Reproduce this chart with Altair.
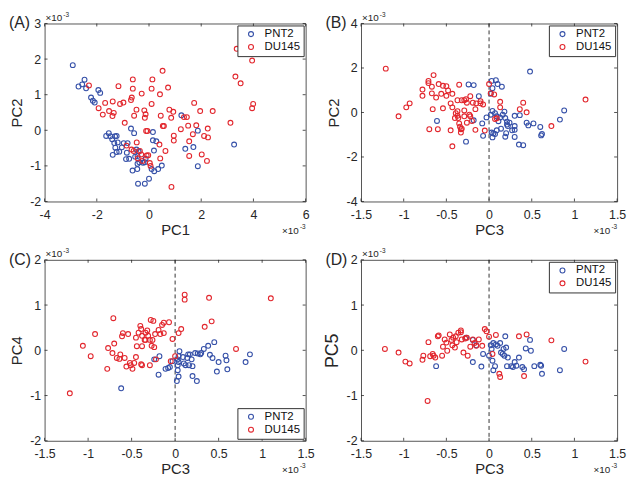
import altair as alt
import pandas as pd

FONT = "Liberation Sans"
BLUE = "#3550a8"
RED = "#e2262d"
AXC = "#262626"

# ---------------- Panel A: PC1 vs PC2 (x10^-3) ----------------
a_pnt2_x = [-2.92, -2.47, -2.70, -2.56, -2.41, -1.94, -1.87, -2.22, -2.15, -2.08, 1.24, 1.87, 3.26, 1.39, 1.70, 1.87,
            -1.64, -1.54, -1.48, -1.41, -1.30, -1.24, -1.33, -1.20, -1.29, -1.24, -1.14, -1.39, -1.04, -0.97, -0.82,
            -0.85, -0.88, -0.76, -0.69, -0.57, -0.48, -0.40, -0.44, -0.53, -0.63, -0.45, -0.42, -0.16, 0.00, -0.44,
            -0.16, -0.13, 0.15, 0.15, 0.28, 0.19, 0.10, 0.20, 0.35, 0.49, -0.37, -0.23]
a_pnt2_y = [1.83, 1.42, 1.23, 1.29, 1.18, 1.13, 1.05, 0.92, 0.83, 0.78, 0.42, -0.01, -0.40, -0.52, -0.47, -1.01,
            -0.16, -0.08, -0.17, -0.25, -0.17, -0.16, -0.36, -0.34, -0.49, -0.61, -0.60, -0.69, -0.48, -0.36, -0.36,
            -0.63, -0.81, -0.80, 0.05, -0.08, -0.54, -0.59, -0.72, -0.74, -1.13, -1.09, -1.50, -1.50, -1.36, -0.94,
            -0.90, -0.80, -0.05, -0.28, -0.31, -0.57, -1.09, -1.15, -1.09, -0.99, -0.90, -0.91]
a_du145_x = [-2.30, -1.93, -1.77, -1.68, -1.53, -1.39, -1.35, -1.40, -1.17, -1.11, -0.98, -0.93, -0.69, -0.66, -0.62,
             -0.62, -0.57, -0.48, -0.28, -0.18, -0.13, -0.16, -0.11, -0.06, 0.13, 0.10, 0.10, 0.42, 0.52, 0.45, 0.53,
             0.57, 0.73, 0.78, 0.85, 0.93, 0.95, 0.95, 1.22, 1.34, 1.45, 1.50, 1.54, 1.54, 1.68, 1.73, 1.81, 1.96,
             2.02, 2.11, 2.25, 2.26, 2.22, 2.44, 3.12, 3.31, 3.51, 3.36, 3.95, 3.95, 3.99, 0.86, 0.63, 0.40, 0.43,
             -0.86, -0.67, -0.59, -0.35, -0.30, -0.43, -0.03, -0.09, 0.03, 0.06, -0.25, -0.47]
a_du145_y = [1.26, 0.62, 0.44, 0.77, 0.54, 0.81, 0.49, 0.40, 1.24, 0.74, 0.78, 0.21, 0.85, 0.92, 1.43,
             1.17, 0.41, 0.58, 1.03, 0.56, 0.45, 0.35, -0.02, -0.02, 1.43, 1.17, 0.74, 1.01, 1.67, 0.41, 0.12,
             0.12, 1.20, 0.58, 0.35, 0.52, -0.15, -0.29, 0.03, 0.37, 0.37, 0.13, -0.31, -0.72, -0.11, 0.77, 0.14, 0.54,
             -0.68, -0.16, 0.05, -0.20, -0.86, 0.54, 0.21, 1.51, 1.32, 2.29, 1.96, 0.62, 0.74, -1.59, -0.58, -0.40, -0.79,
             -0.43, -0.54, -0.58, -0.58, -0.68, -0.79, -0.70, -0.71, -0.92, -1.00, -0.86, -0.34]

# ---------------- Panel B: PC3 vs PC2 ----------------
b_pnt2_x = [0.48, 0.88, 0.83, 0.60, 0.62, 0.61, 0.52, 0.44, 0.46, 0.36, 0.30, 0.30, 0.30, 0.30, 0.35, 0.40, 0.27,
            0.24, 0.21, 0.20, 0.19, 0.15, 0.08, 0.10, 0.03, 0.04, 0.02, 0.02, 0.04, 0.07, 0.09, 0.11, 0.13, 0.16,
            0.18, 0.19, 0.21, 0.22, 0.14, 0.09, 0.07, 0.04, 0.05, 0.03, -0.08, -0.12, -0.18, -0.24, -0.18, -0.27,
            -0.61, -0.07, -0.03]
b_pnt2_y = [1.84, 0.09, -0.32, -0.65, -0.97, -1.03, -0.49, -0.46, -0.58, -0.12, -0.15, -0.61, -0.78, -1.10, -1.44,
            -1.47, -0.80, -0.46, -0.41, -0.93, -1.09, 1.16, 1.45, 1.28, 1.42, 1.09, 0.84, -0.10, 0.07, -0.03, -0.17,
            -0.39, -0.22, -0.10, 0.04, -0.25, -0.54, -0.61, -0.73, -0.80, -0.97, -1.12, -0.94, -0.90, -0.49, 0.73,
            1.23, 1.26, -0.35, -1.31, -0.38, -1.05, -0.22]
b_du145_x = [-1.21, -1.06, -0.97, -0.93, -0.78, -0.78, -0.71, -0.71, -0.67, -0.65, -0.67, -0.62, -0.59, -0.56, -0.54,
             -0.50, -0.50, -0.48, -0.45, -0.43, -0.43, -0.35, -0.37, -0.37, -0.32, -0.29, -0.27, -0.26, -0.22, -0.19,
             -0.16, -0.15, -0.10, -0.10, -0.07, -0.66, -0.70, -0.60, -0.54, -0.45, -0.43, -0.39, -0.37, -0.40, -0.36,
             -0.35, -0.34, -0.33, -0.33, -0.32, -0.29, -0.29, -0.26, -0.23, -0.22, -0.20, -0.16, 0.00, 0.02, 0.06,
             0.09, 0.07, 0.13, 0.13, 0.36, 0.40, 0.44, 0.73, 1.13, -0.05]
b_du145_y = [1.97, -0.17, 0.23, 0.41, 1.03, 0.75, 1.42, 1.32, 1.16, 1.68, 0.86, 0.67, 1.28, 0.84, 1.20,
             0.75, 1.18, 0.99, 0.41, 0.84, 0.23, 1.25, 0.55, 0.06, 0.55, 0.55, 0.60, 0.44, 0.73, 0.44,
             0.15, 0.41, 0.51, 0.41, 0.36, 0.15, -0.75, -0.75, 0.19, -0.80, -1.52, -0.03, -0.15, -0.25, -0.25,
             -0.49, -0.64, -0.75, -0.90, -0.73, 0.09, -0.17, -0.46, -0.10, -0.17, -0.38, -0.78, 1.28, 0.87, 0.81,
             -0.26, -0.29, 0.48, 0.23, 0.15, 0.44, 0.01, -0.61, 0.58, -0.81]

# ---------------- Panel C: PC3 vs PC4 ----------------
c_pnt2_x = [-0.62, -0.19, -0.18, -0.24, -0.11, -0.08, -0.06, 0.02, 0.04, 0.03, 0.03, 0.04, 0.03, 0.04, 0.05, 0.09,
            0.10, 0.12, 0.14, 0.15, 0.16, 0.17, 0.19, 0.20, 0.20, 0.23, 0.25, 0.26, 0.29, 0.30, 0.33, 0.38, 0.40,
            0.43, 0.45, 0.48, 0.50, 0.58, 0.59, 0.60, 0.81, 0.86, -0.03]
c_pnt2_y = [-0.84, -0.54, -0.13, -0.20, -0.41, -0.39, -0.37, -0.68, -0.58, -0.44, -0.33, -0.26, -0.20, -0.13, -0.02,
            -0.15, -0.29, -0.33, -0.17, -0.09, -0.33, -0.09, -0.20, -0.35, -0.57, -0.06, -0.68, -0.07, -0.09, -0.06,
            0.03, 0.10, -0.10, -0.17, 0.18, -0.47, -0.26, -0.12, -0.22, -0.42, -0.26, -0.09, -0.24]
c_du145_x = [-1.21, -1.06, -0.97, -0.92, -0.78, -0.77, -0.71, -0.70, -0.72, -0.67, -0.64, -0.63, -0.60, -0.61, -0.58,
             -0.56, -0.54, -0.51, -0.52, -0.49, -0.47, -0.45, -0.45, -0.44, -0.42, -0.40, -0.39, -0.38, -0.38,
             -0.39, -0.38, -0.35, -0.34, -0.34, -0.32, -0.31, -0.29, -0.28, -0.27, -0.26, -0.24, -0.25, -0.23,
             -0.29, -0.22, -0.19, -0.17, -0.15, -0.13, -0.13, -0.07, -0.03, 0.00, -0.05, 0.04, 0.07, 0.11, 0.11,
             0.39, 0.42, 0.34, 0.70, 1.10]
c_du145_y = [-0.95, 0.10, -0.13, 0.36, -0.41, 0.05, 0.71, 0.15, -0.06, -0.17, -0.19, -0.09, 0.38, 0.31, -0.17,
             -0.36, 0.36, -0.33, -0.28, -0.41, -0.28, -0.15, 0.28, 0.09, 0.39, 0.54, 0.47, 0.09, 0.32,
             -0.31, -0.33, 0.23, 0.39, 0.23, 0.44, 0.32, 0.23, 0.67, 0.10, 0.23, 0.07, 0.65, 0.36,
             -0.33, -0.20, 0.45, 0.36, 0.56, 0.61, 0.38, 0.62, 0.25, -0.13, -0.24, 0.38, 0.47, 1.23, 1.12,
             1.16, 0.64, 0.52, 0.03, 1.15]

# ---------------- Panel D: PC3 vs PC5 ----------------
d_pnt2_x = [-0.62, -0.19, -0.09, -0.27, -0.19, -0.15, -0.07, 0.00, 0.02, 0.03, 0.05, 0.04, 0.05, 0.07, 0.08, 0.10,
            0.13, 0.14, 0.16, 0.17, 0.18, 0.19, 0.20, 0.22, 0.21, 0.26, 0.28, 0.30, 0.32, 0.35, 0.39, 0.41, 0.43,
            0.48, 0.49, 0.53, 0.60, 0.61, 0.62, 0.83, 0.88]
d_pnt2_y = [-0.35, -0.26, -0.36, 0.28, 0.23, 0.11, -0.08, -0.12, 0.11, 0.03, 0.16, -0.23, -0.44, -0.35, 0.13, 0.10,
            0.16, -0.05, -0.08, 0.03, -0.12, 0.31, 0.06, -0.16, -0.35, -0.35, -0.37, -0.26, -0.34, -0.16, -0.37,
            -0.42, 0.04, 0.23, -0.01, -0.35, -0.32, -0.34, -0.52, -0.44, 0.03]
d_du145_x = [-1.22, -1.06, -0.98, -0.93, -0.78, -0.77, -0.72, -0.71, -0.69, -0.66, -0.65, -0.63, -0.60, -0.59, -0.55,
             -0.54, -0.52, -0.50, -0.49, -0.46, -0.44, -0.43, -0.42, -0.40, -0.38, -0.39, -0.36, -0.33, -0.33,
             -0.32, -0.30, -0.28, -0.26, -0.25, -0.22, -0.19, -0.17, -0.15, -0.12, -0.08, -0.05, -0.03, 0.00,
             0.04, 0.08, 0.12, 0.13, 0.35, 0.44, 0.41, 0.73, 1.13]
d_du145_y = [0.03, -0.05, -0.25, -0.29, -0.21, -0.12, -1.12, 0.18, -0.13, -0.08, -0.12, -0.16, 0.31, 0.33, -0.12,
             0.08, 0.24, 0.17, -0.01, 0.35, 0.23, 0.11, 0.28, 0.06, 0.18, 0.31, 0.39, 0.44, 0.40,
             0.24, -0.05, 0.26, 0.28, -0.12, 0.08, 0.24, 0.16, 0.10, 0.24, 0.10, 0.47, 0.42, 0.30,
             -0.08, 0.34, -0.52, -0.59, 0.31, 0.35, -0.57, 0.22, -0.25]

PC3_TICKS = [-1.5, -1, -0.5, 0, 0.5, 1, 1.5]


def panel(px, py, rx, ry, xdom, ydom, xticks, yticks, xtitle, ytitle, w, h, label,
          legend_orient, dashed, ytitle_size=15):
    xs = alt.Scale(domain=xdom, nice=False, zero=False)
    ys = alt.Scale(domain=ydom, nice=False, zero=False)
    xax = alt.Axis(values=xticks, title=xtitle, labelExpr="datum.value + ''",
                   ticks=False, domain=False, grid=False, labelFlush=False,
                   labelPadding=7, titlePadding=2, labelOverlap=False)
    yax = alt.Axis(values=yticks, title=ytitle, labelExpr="datum.value + ''",
                   ticks=False, domain=False, grid=False, labelFlush=False,
                   labelPadding=4, titlePadding=5, labelOverlap=False,
                   titleFontSize=ytitle_size)
    X = lambda: alt.X("x:Q", scale=xs, axis=xax)
    Y = lambda: alt.Y("y:Q", scale=ys, axis=yax)
    df = pd.DataFrame({
        "x": px + rx,
        "y": py + ry,
        "cell": ["PNT2"] * len(px) + ["DU145"] * len(rx),
    })
    pts = alt.Chart(df).mark_point(filled=False, size=24, strokeWidth=1.1, opacity=1).encode(
        x=X(), y=Y(),
        color=alt.Color("cell:N", scale=alt.Scale(domain=["PNT2", "DU145"], range=[BLUE, RED]),
                        legend=alt.Legend(title=None, orient=legend_orient, offset=2)),
    )
    layers = []
    if dashed:
        layers.append(alt.Chart(pd.DataFrame({"x": [0]})).mark_rule(
            strokeDash=[4, 3], color="#333333", strokeWidth=1).encode(x=X()))
    layers.append(pts)
    xt = pd.DataFrame({"x": xticks})
    yt = pd.DataFrame({"y": yticks})
    tk = dict(color=AXC, strokeWidth=0.8)
    layers += [
        alt.Chart(xt).mark_rule(**tk).encode(x=X(), y=alt.value(h), y2=alt.value(h - 3)),
        alt.Chart(xt).mark_rule(**tk).encode(x=X(), y=alt.value(0), y2=alt.value(3)),
        alt.Chart(yt).mark_rule(**tk).encode(y=Y(), x=alt.value(0), x2=alt.value(3)),
        alt.Chart(yt).mark_rule(**tk).encode(y=Y(), x=alt.value(w), x2=alt.value(w - 3)),
    ]
    one = pd.DataFrame({"t": [label]})
    txt = dict(font=FONT, color=AXC)
    layers += [
        alt.Chart(one).mark_text(align="left", baseline="middle", fontSize=16, **txt).encode(
            text="t:N", x=alt.value(-36), y=alt.value(0)),
        alt.Chart(one).mark_text(align="left", baseline="alphabetic", fontSize=10, text="\u00d710", **txt).encode(
            x=alt.value(1), y=alt.value(-2.5)),
        alt.Chart(one).mark_text(align="left", baseline="alphabetic", fontSize=6.5, text="-3", **txt).encode(
            x=alt.value(19), y=alt.value(-7)),
        alt.Chart(one).mark_text(align="right", baseline="alphabetic", fontSize=10, text="\u00d710", **txt).encode(
            x=alt.value(w - 7), y=alt.value(h + 33)),
        alt.Chart(one).mark_text(align="right", baseline="alphabetic", fontSize=6.5, text="-3", **txt).encode(
            x=alt.value(w), y=alt.value(h + 28)),
    ]
    return alt.layer(*layers).properties(width=w, height=h)


A = panel(a_pnt2_x, a_pnt2_y, a_du145_x, a_du145_y, [-4, 6], [-2, 3], [-4, -2, 0, 2, 4, 6],
          [-2, -1, 0, 1, 2, 3], "PC1", "PC2", 264, 180, "(A)", "top-right", False)
B = panel(b_pnt2_x, b_pnt2_y, b_du145_x, b_du145_y, [-1.5, 1.5], [-4, 4], PC3_TICKS,
          [-4, -2, 0, 2, 4], "PC3", "PC2", 259, 180, "(B)", "top-right", True)
C = panel(c_pnt2_x, c_pnt2_y, c_du145_x, c_du145_y, [-1.5, 1.5], [-2, 2], PC3_TICKS,
          [-2, -1, 0, 1, 2], "PC3", "PC4", 264, 183, "(C)", "bottom-right", True)
D = panel(d_pnt2_x, d_pnt2_y, d_du145_x, d_du145_y, [-1.5, 1.5], [-2, 2], PC3_TICKS,
          [-2, -1, 0, 1, 2], "PC3", "PC5", 259, 183, "(D)", "top-right", True, ytitle_size=18)

chart = alt.concat(A, B, C, D, columns=2, spacing={"row": 59, "column": 56}, bounds="flush").resolve_scale(
    x="independent", y="independent", color="independent"
).properties(padding=0).configure_view(
    stroke="#555555", strokeWidth=1
).configure_axis(
    labelFont=FONT, labelFontSize=12.5, labelColor=AXC, titleFont=FONT, titleFontSize=15,
    titleFontWeight="normal", titleColor=AXC
).configure_legend(
    labelFont=FONT, labelFontSize=11.5, labelColor="#111111", strokeColor="#333333", fillColor="white",
    padding=3, symbolOffset=5, labelOffset=8, rowPadding=0, symbolSize=25, symbolStrokeWidth=1.1,
    symbolType="circle", cornerRadius=0
)

chart.save("out.html", embed_options={"renderer": "svg", "actions": False})
